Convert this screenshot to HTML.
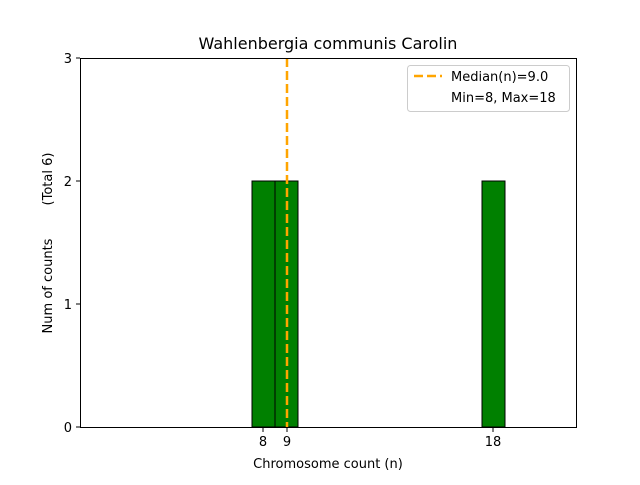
<!DOCTYPE html>
<html><head><meta charset="utf-8"><style>body{margin:0;background:#fff}</style></head><body>
<svg width="640" height="480" xmlns="http://www.w3.org/2000/svg" font-family="DejaVu Sans, Liberation Sans, sans-serif">
<rect width="640" height="480" fill="#fff"/>
<text x="328" y="49" font-size="16" text-anchor="middle">Wahlenbergia communis Carolin</text>
<g fill="#008000" stroke="#000" stroke-width="1">
<rect x="252" y="181" width="23" height="246"/>
<rect x="275" y="181" width="23" height="246"/>
<rect x="482" y="181" width="23" height="246"/>
</g>
<line x1="287" y1="58" x2="287" y2="427" stroke="#FFA500" stroke-width="2.5" stroke-dasharray="9,4"/>
<rect x="80.5" y="58.5" width="496" height="369" fill="none" stroke="#000" stroke-width="1"/>
<g stroke="#000">
<line x1="76" y1="427" x2="80" y2="427"/><line x1="76" y1="304" x2="80" y2="304"/>
<line x1="76" y1="181" x2="80" y2="181"/><line x1="76" y1="58" x2="80" y2="58"/>
<line x1="263" y1="428" x2="263" y2="432"/><line x1="287" y1="428" x2="287" y2="432"/><line x1="493" y1="428" x2="493" y2="432"/>
</g>
<g font-size="13" text-anchor="end">
<text x="72" y="432">0</text><text x="72" y="309">1</text><text x="72" y="186">2</text><text x="72" y="63">3</text>
</g>
<g font-size="13" text-anchor="middle">
<text x="263" y="446">8</text><text x="287" y="446">9</text><text x="493" y="446">18</text>
<text x="328" y="468">Chromosome count (n)</text>
</g>
<text transform="translate(52,286) rotate(-90)" font-size="13" text-anchor="middle">Num of counts</text>
<text transform="translate(52,179) rotate(-90)" font-size="13" text-anchor="middle">(Total 6)</text>
<rect x="407.5" y="65.5" width="162" height="46" rx="3" fill="#fff" stroke="#ccc"/>
<line x1="414" y1="76" x2="442" y2="76" stroke="#FFA500" stroke-width="2.5" stroke-dasharray="9,4"/>
<text x="451" y="81" font-size="13">Median(n)=9.0</text>
<text x="451" y="102" font-size="13">Min=8, Max=18</text>
</svg>
</body></html>
